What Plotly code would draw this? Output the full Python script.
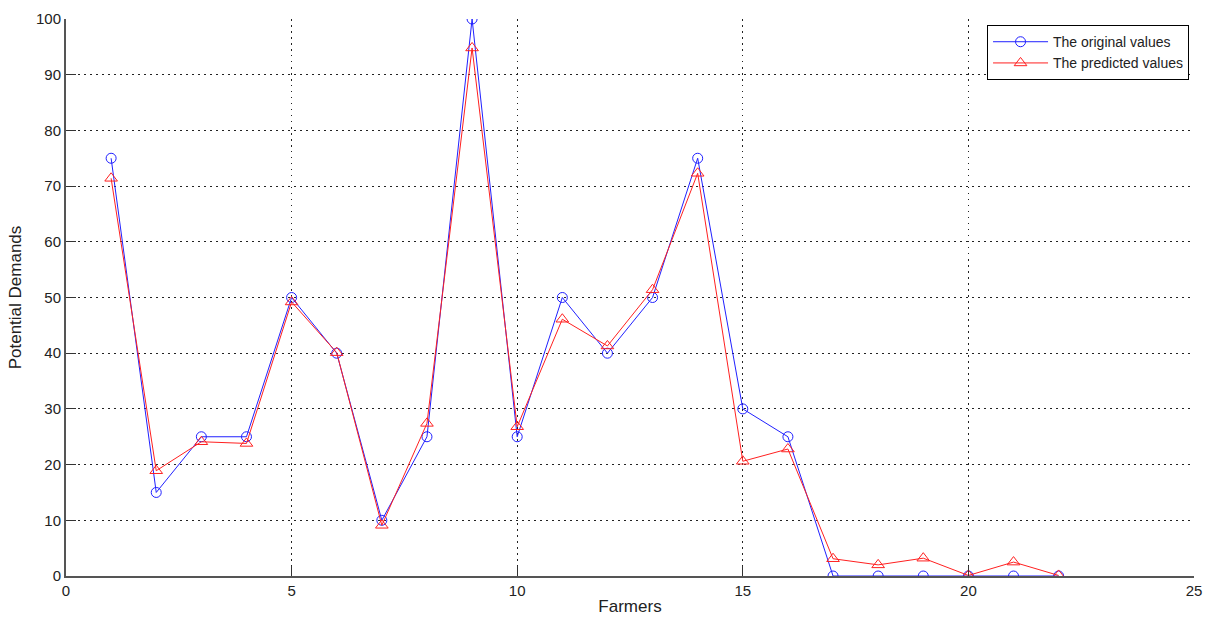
import plotly.graph_objects as go

farmers = list(range(1, 23))
original = [75, 15, 25, 25, 50, 40, 10, 25, 100, 25, 50, 40, 50, 75, 30, 25, 0, 0, 0, 0, 0, 0]
predicted = [71.4, 18.9, 24.1, 23.8, 49.2, 40.1, 9.1, 27.4, 94.8, 26.8, 46.1, 41.3, 51.4, 72.3,
             20.6, 22.8, 3.1, 2.0, 3.2, 0.1, 2.5, 0.1]
x_ticks = [0, 5, 10, 15, 20, 25]
y_ticks = list(range(0, 101, 10))

fig = go.Figure()
fig.add_trace(go.Scatter(
    x=farmers, y=original, mode="lines+markers", name="The original values",
    line=dict(color="#2020ff", width=1),
    marker=dict(symbol="circle-open", size=10, color="#2020ff", line=dict(width=1)),
))
fig.add_trace(go.Scatter(
    x=farmers, y=predicted, mode="lines+markers", name="The predicted values",
    line=dict(color="#ff2020", width=1),
    marker=dict(symbol="triangle-up-open", size=11, color="#ff2020", line=dict(width=1)),
))

axis_common = dict(
    showgrid=True, gridcolor="#222222", griddash="1.5px,4.5px", gridwidth=1,
    zeroline=False, showline=True, linecolor="#555555", linewidth=2,
    ticks="inside", ticklen=10, tickcolor="#333333",
    tickfont=dict(family="Liberation Sans, Arial", size=15, color="#222222"),
    mirror=False, automargin=False,
)

fig.update_layout(
    width=1210, height=617,
    margin=dict(l=66, r=16, t=19, b=41),
    paper_bgcolor="white", plot_bgcolor="white",
    font=dict(family="Liberation Sans, Arial", color="#222222"),
    xaxis=dict(range=[0, 25], tickvals=x_ticks,
               title=dict(text="Farmers", font=dict(size=17), standoff=2), **axis_common),
    yaxis=dict(range=[0, 100], tickvals=y_ticks,
               title=dict(text="Potential Demands", font=dict(size=17), standoff=10), **axis_common),
    legend=dict(x=0.9956, y=0.989, xanchor="right", yanchor="top",
                bordercolor="#000000", borderwidth=1, bgcolor="white",
                font=dict(family="Liberation Sans, Arial", size=14, color="#222222"),
                tracegroupgap=0, itemwidth=55),
    showlegend=True,
)

fig.write_html(
    "out.html",
    config={"displayModeBar": False},
    post_script="document.body.style.margin='0';document.body.style.overflow='hidden';",
)
